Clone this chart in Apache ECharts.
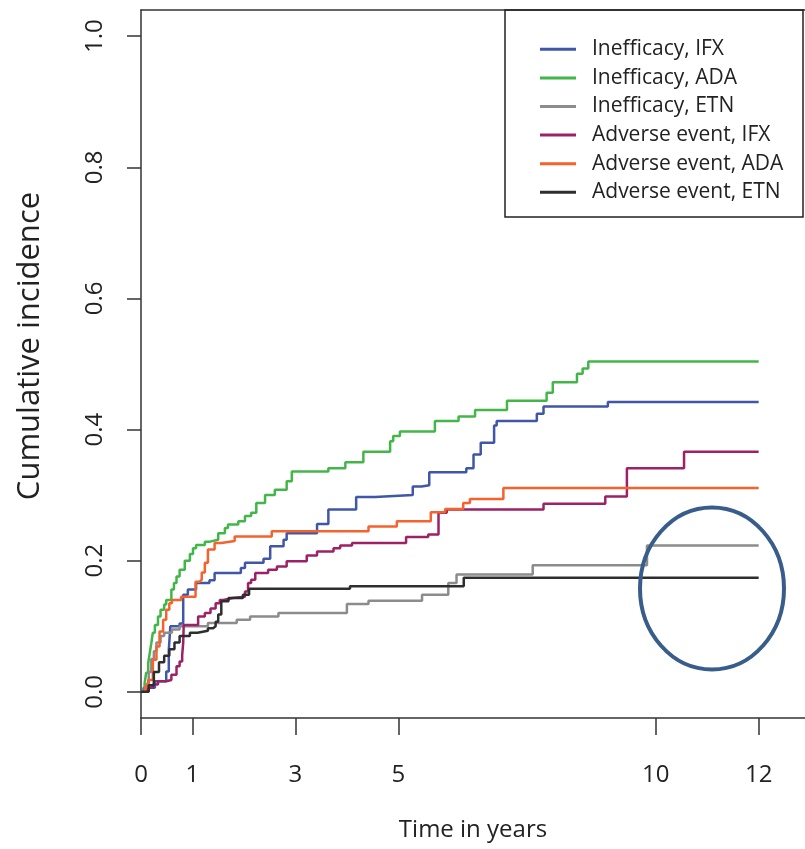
<!DOCTYPE html>
<html><head><meta charset="utf-8">
<script src="https://cdn.jsdelivr.net/npm/echarts@6/dist/echarts.min.js"></script>
<style>html,body{margin:0;padding:0;background:#fff}#c{width:805px;height:849px}</style>
</head><body><div id="c"></div>
<script>
// Tick values
const xTicks = [0, 1, 3, 5, 10, 12];
const yTicks = [0, 0.2, 0.4, 0.6, 0.8, 1.0];

// Series names and colours
const seriesNames = ['Inefficacy, IFX', 'Inefficacy, ADA', 'Inefficacy, ETN',
  'Adverse event, IFX', 'Adverse event, ADA', 'Adverse event, ETN'];
const seriesColors = ['#4056a8', '#43b649', '#8c8c8c', '#9c2265', '#f5622d', '#2e2e2e'];

// Cumulative incidence step data: [time in years, value after the step]
const ineffIFX = [[0,0],[0.05,0.006],[0.27,0.016],[0.49,0.031],[0.54,0.064],[0.57,0.1],[0.75,0.104],[0.82,0.148],[0.91,0.156],[1.07,0.166],[1.33,0.17],[1.43,0.181],[1.94,0.189],[2.02,0.197],[2.38,0.203],[2.51,0.222],[2.77,0.232],[2.83,0.242],[3.42,0.256],[3.64,0.278],[4.18,0.297],[4.55,0.3],[5.28,0.313],[5.45,0.315],[5.6,0.335],[6.32,0.341],[6.46,0.362],[6.6,0.38],[6.86,0.406],[6.91,0.413],[7.69,0.424],[7.82,0.435],[9.07,0.442],[12,0.442]];
const ineffADA = [[0,0],[0.07,0.013],[0.10,0.029],[0.14,0.044],[0.17,0.059],[0.20,0.074],[0.23,0.09],[0.27,0.102],[0.33,0.115],[0.38,0.125],[0.45,0.133],[0.49,0.14],[0.59,0.156],[0.64,0.166],[0.69,0.176],[0.75,0.186],[0.85,0.2],[0.95,0.21],[1.01,0.219],[1.07,0.224],[1.24,0.229],[1.34,0.232],[1.50,0.242],[1.63,0.25],[1.69,0.255],[1.89,0.26],[2.02,0.268],[2.14,0.273],[2.24,0.288],[2.41,0.30],[2.6,0.308],[2.83,0.321],[2.93,0.336],[3.64,0.341],[3.97,0.35],[4.32,0.366],[4.84,0.382],[4.9,0.39],[5.03,0.397],[5.71,0.413],[6.17,0.42],[6.49,0.43],[7.11,0.444],[7.88,0.456],[8.0,0.472],[8.47,0.485],[8.58,0.493],[8.69,0.504],[12,0.504]];
const ineffETN = [[0,0],[0.1,0.012],[0.15,0.03],[0.2,0.05],[0.25,0.062],[0.3,0.075],[0.38,0.085],[0.45,0.09],[0.6,0.095],[0.75,0.1],[1.3,0.105],[1.86,0.11],[2.12,0.115],[2.67,0.12],[4.0,0.134],[4.42,0.139],[5.46,0.148],[5.97,0.166],[6.13,0.179],[7.61,0.193],[9.83,0.223],[12,0.223]];
const adverseIFX = [[0,0],[0.07,0.002],[0.14,0.006],[0.23,0.011],[0.33,0.016],[0.49,0.018],[0.59,0.026],[0.69,0.039],[0.75,0.046],[0.8,0.056],[0.82,0.075],[0.83,0.102],[1.11,0.115],[1.24,0.12],[1.35,0.127],[1.45,0.135],[1.53,0.14],[1.6,0.143],[1.78,0.145],[2.02,0.153],[2.08,0.166],[2.14,0.171],[2.22,0.181],[2.47,0.186],[2.64,0.191],[2.83,0.199],[3.22,0.208],[3.42,0.214],[3.74,0.219],[3.87,0.223],[4.1,0.227],[5.15,0.236],[5.58,0.24],[5.78,0.273],[5.94,0.278],[7.82,0.287],[9.02,0.298],[9.44,0.341],[10.55,0.366],[12,0.366]];
const adverseADA = [[0,0],[0.08,0.008],[0.14,0.018],[0.23,0.049],[0.3,0.069],[0.36,0.092],[0.43,0.11],[0.49,0.125],[0.55,0.135],[0.6,0.14],[0.78,0.145],[1.06,0.168],[1.14,0.171],[1.18,0.182],[1.24,0.197],[1.3,0.217],[1.43,0.227],[1.56,0.23],[1.82,0.237],[2.54,0.245],[4.42,0.252],[4.97,0.26],[5.63,0.274],[5.91,0.279],[6.26,0.288],[6.39,0.294],[7.04,0.311],[12,0.311]];
const adverseETN = [[0,0],[0.15,0.01],[0.25,0.03],[0.35,0.045],[0.45,0.055],[0.55,0.065],[0.65,0.075],[0.75,0.085],[0.95,0.09],[1.1,0.093],[1.3,0.097],[1.4,0.1],[1.45,0.107],[1.5,0.118],[1.56,0.138],[1.7,0.143],[1.98,0.148],[2.1,0.157],[4.06,0.161],[6.27,0.174],[12,0.174]];

const seriesData = [ineffIFX, ineffADA, ineffETN, adverseIFX, adverseADA, adverseETN];

const FONT = 'Open Sans';
const chart = echarts.init(document.getElementById('c'), null, {renderer: 'canvas'});

const series = seriesNames.map((name, i) => ({
  name: name,
  type: 'line',
  step: 'end',
  data: seriesData[i],
  showSymbol: false,
  symbol: 'none',
  color: seriesColors[i],
  lineStyle: {width: 2.5, color: seriesColors[i]},
  z: 3,
  animation: false
}));

const lineStyle = {color: '#333', width: 1.5};

chart.setOption({
  animation: false,
  backgroundColor: '#fff',
  grid: {left: 141, right: 0, top: 10, bottom: 131, show: false},
  xAxis: [{
    type: 'value', min: 0, max: 12.9, position: 'bottom',
    name: 'Time in years', nameLocation: 'middle', nameGap: 100,
    nameTextStyle: {fontFamily: FONT, fontSize: 24, color: '#222'},
    axisLine: {show: true, onZero: false, lineStyle: lineStyle},
    axisTick: {show: true, length: 17, lineStyle: lineStyle, customValues: xTicks},
    axisLabel: {show: true, margin: 45, fontFamily: FONT, fontSize: 24, color: '#222', customValues: xTicks},
    splitLine: {show: false}
  }, {
    type: 'value', min: 0, max: 12.9, position: 'top',
    axisLine: {show: true, onZero: false, lineStyle: lineStyle},
    axisTick: {show: false}, axisLabel: {show: false}, splitLine: {show: false}
  }],
  yAxis: {
    type: 'value', min: -0.04, max: 1.04,
    name: 'Cumulative incidence', nameLocation: 'middle', nameGap: 95, nameRotate: 90,
    nameTextStyle: {fontFamily: FONT, fontSize: 31, color: '#222', padding: [0, 0, 0, 36]},
    axisLine: {show: true, onZero: false, lineStyle: lineStyle},
    axisTick: {show: true, length: 14, lineStyle: lineStyle, customValues: yTicks},
    axisLabel: {show: true, margin: 34, rotate: 90, fontFamily: FONT, fontSize: 24, color: '#222',
      customValues: yTicks, formatter: v => Number(v).toFixed(1)},
    splitLine: {show: false}
  },
  legend: {
    orient: 'vertical', left: 535, top: 30, itemGap: 0,
    itemWidth: 36, itemHeight: 3, icon: 'rect', selectedMode: false,
    data: seriesNames,
    textStyle: {fontFamily: FONT, fontSize: 21, color: '#222', lineHeight: 28.6, padding: [0, 0, 0, 11]}
  },
  graphic: [
    {type: 'rect', z: 10, shape: {x: 505, y: 10, width: 298, height: 207},
      style: {fill: 'none', stroke: '#222', lineWidth: 1.5}},
    {type: 'ellipse', z: 10, shape: {cx: 712, cy: 588.5, rx: 72, ry: 81},
      style: {fill: 'none', stroke: '#385d8a', lineWidth: 4}}
  ],
  series: series
});
</script>
</body></html>
